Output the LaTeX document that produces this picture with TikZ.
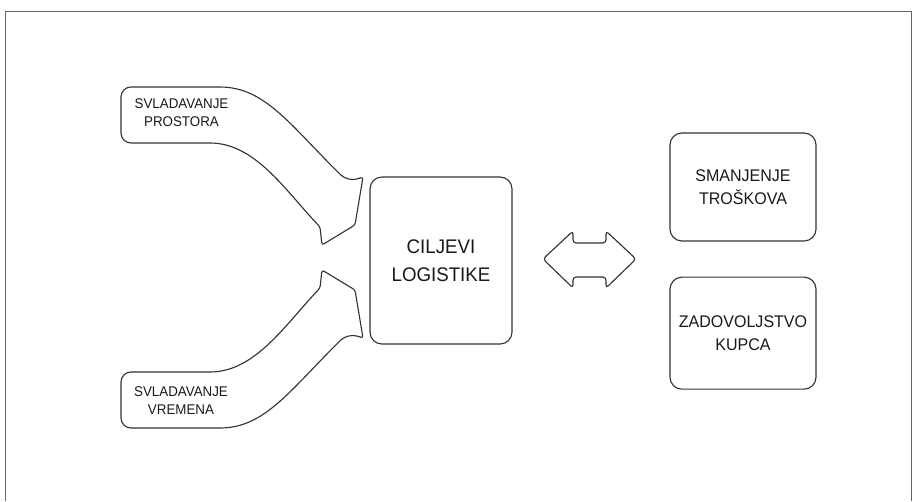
\documentclass[tikz,border=0pt]{standalone}
\usepackage{fontspec}
\setmainfont{Liberation Sans}[FakeStretch=0.95]
\usetikzlibrary{positioning}

\begin{document}
\begin{tikzpicture}[
		x=0.025cm, y=-0.025cm,
		node distance=0.875cm,
		line/.style={draw=black!80, line width=0.8pt},
		frame/.style={draw=black!60, line width=0.6pt},
		block/.style={line, rounded corners=0.3cm, minimum width=3.65cm, align=center, text=black!90, font=\fontsize{12}{16.3}\selectfont},
		arrowtext/.style={align=center, text=black!90, font=\fontsize{10}{12.8}\selectfont},
	]
		\useasboundingbox (0,0) rectangle (913,501);
		\draw[frame] (5,501) -- (5,11) -- (911,11) -- (911,501);
		
		% curved block arrows
		\draw[line, rounded corners=0.25cm] (210,143) -- (121,143) -- (121,87) -- (210,87) .. controls (265,87) and (290,125) .. (348,182) [rounded corners=0.06cm] -- (363,177) -- (355,225) -- (322,245) -- (320,227) [rounded corners=0] .. controls (285,190) and (255,143) .. (210,143) -- cycle;
		\draw[line, rounded corners=0.25cm] (210,372) -- (121,372) -- (121,428) -- (210,428) .. controls (265,428) and (290,390) .. (348,333) [rounded corners=0.06cm] -- (363,338) -- (355,290) -- (322,270) -- (320,288) [rounded corners=0] .. controls (285,325) and (255,372) .. (210,372) -- cycle;
		
		\node (space) [arrowtext] at (181.5,113) {SVLADAVANJE\\PROSTORA};
		\node (time) [arrowtext] at (181,401) {SVLADAVANJE\\VREMENA};
		
		\node (goals) [block, minimum width=3.55cm, minimum height=4.175cm, font=\fontsize{14}{20}\selectfont] at (441,260.5) {CILJEVI\\LOGISTIKE};
		
		% double arrow between goals and targets
		\draw[line, rounded corners=0.08cm] (543,259) -- (573,231) -- (573,243) -- (606,243) -- (606,231) -- (636,259) -- (606,288) -- (606,277) -- (573,277) -- (573,288) -- cycle;
		
		\node (costs) [block, minimum height=2.7cm] at (743,187) {SMANJENJE\\TROŠKOVA};
		\node (client) [block, minimum height=2.8cm, below=of costs] {ZADOVOLJSTVO\\KUPCA};
	\end{tikzpicture}
\end{document}
